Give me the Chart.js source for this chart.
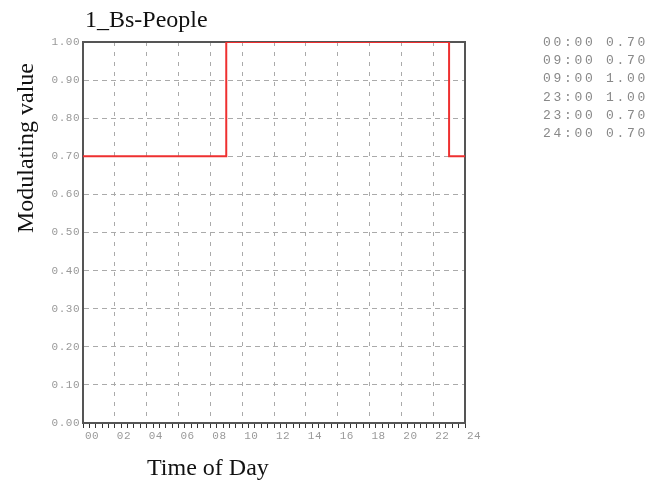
<!DOCTYPE html>
<html>
<head>
<meta charset="utf-8">
<script src="https://cdn.jsdelivr.net/npm/chart.js@4"></script>
<style>
  html, body { margin: 0; padding: 0; background: #fff; }
  #wrap { position: relative; width: 652px; height: 480px; }
  #myChart { position: absolute; left: 0; top: 0; }
  #table {
    position: absolute; left: 543px; top: 34px;
    font: 13px "Liberation Mono", monospace; letter-spacing: 2.7px;
    line-height: 18.2px; color: #888; white-space: pre;
  }
</style>
</head>
<body>
<div id="wrap">
  <canvas id="myChart" width="652" height="480"></canvas>
  <div id="table"></div>
</div>
<script>
// schedule points (hour of day, modulating value)
const hours = [0, 9, 9, 23, 23, 24];
const values = [0.70, 0.70, 1.00, 1.00, 0.70, 0.70];

const chartTitle = '1_Bs-People';
const xTitle = 'Time of Day';
const yTitle = 'Modulating value';

// right hand listing
document.getElementById('table').textContent = hours
  .map((h, i) => String(h).padStart(2, '0') + ':00 ' + values[i].toFixed(2))
  .join('\n');

const isMajor = v => v != null && Math.abs(v / 2 - Math.round(v / 2)) < 1e-6;

const decor = {
  id: 'decor',
  beforeDraw(chart) {
    chart.ctx.letterSpacing = '0.5px';
  },
  beforeDatasetsDraw(chart) {
    const { ctx, chartArea: a } = chart;
    ctx.save();
    ctx.strokeStyle = '#555';
    ctx.lineWidth = 2;
    ctx.strokeRect(a.left, a.top, a.right - a.left, a.bottom - a.top);
    ctx.restore();
  },
  afterDraw(chart) {
    const { ctx, chartArea: a } = chart;
    ctx.save();
    ctx.letterSpacing = '0px';
    ctx.fillStyle = '#111';
    ctx.font = '24px "Liberation Serif"';
    ctx.textAlign = 'left';
    ctx.textBaseline = 'alphabetic';
    ctx.fillText(chartTitle, a.left + 2, 27);
    ctx.fillText(xTitle, 147, 475);
    ctx.translate(33, 233);
    ctx.rotate(-Math.PI / 2);
    ctx.fillText(yTitle, 0, 0);
    ctx.restore();
  }
};

const ctx = document.getElementById('myChart');

new Chart(ctx, {
  type: 'line',
  data: {
    datasets: [{
      data: hours.map((h, i) => ({ x: h, y: values[i] })),
      borderColor: '#ee3030',
      borderWidth: 2,
      pointRadius: 0,
      tension: 0,
      fill: false
    }]
  },
  options: {
    responsive: false,
    animation: false,
    layout: { padding: { top: 42, right: 187, bottom: 33, left: 0 } },
    plugins: {
      legend: { display: false },
      tooltip: { enabled: false },
      title: { display: false }
    },
    scales: {
      x: {
        type: 'linear',
        min: 0,
        max: 24,
        afterFit: s => { s.height = 24; },
        border: { color: '#555', width: 2, dash: [4, 6] },
        grid: {
          color: c => (isMajor(c.tick && c.tick.value) ? '#aaa' : 'rgba(0,0,0,0)'),
          tickColor: '#333',
          tickLength: 5,
          tickBorderDash: []
        },
        ticks: {
          stepSize: 0.4,
          autoSkip: false,
          maxRotation: 0,
          minRotation: 0,
          align: 'start',
          labelOffset: 2,
          padding: 1,
          color: '#999',
          font: { family: 'Liberation Mono', size: 11 },
          callback: v => (isMajor(v) ? String(Math.round(v)).padStart(2, '0') : '')
        }
      },
      y: {
        min: 0,
        max: 1,
        afterFit: s => { s.width = 83; },
        border: { color: '#555', width: 2, dash: [5, 4] },
        grid: {
          color: '#aaa',
          drawTicks: false
        },
        ticks: {
          stepSize: 0.1,
          padding: 3,
          color: '#999',
          font: { family: 'Liberation Mono', size: 11 },
          callback: v => v.toFixed(2)
        }
      }
    }
  },
  plugins: [decor]
});
</script>
</body>
</html>
